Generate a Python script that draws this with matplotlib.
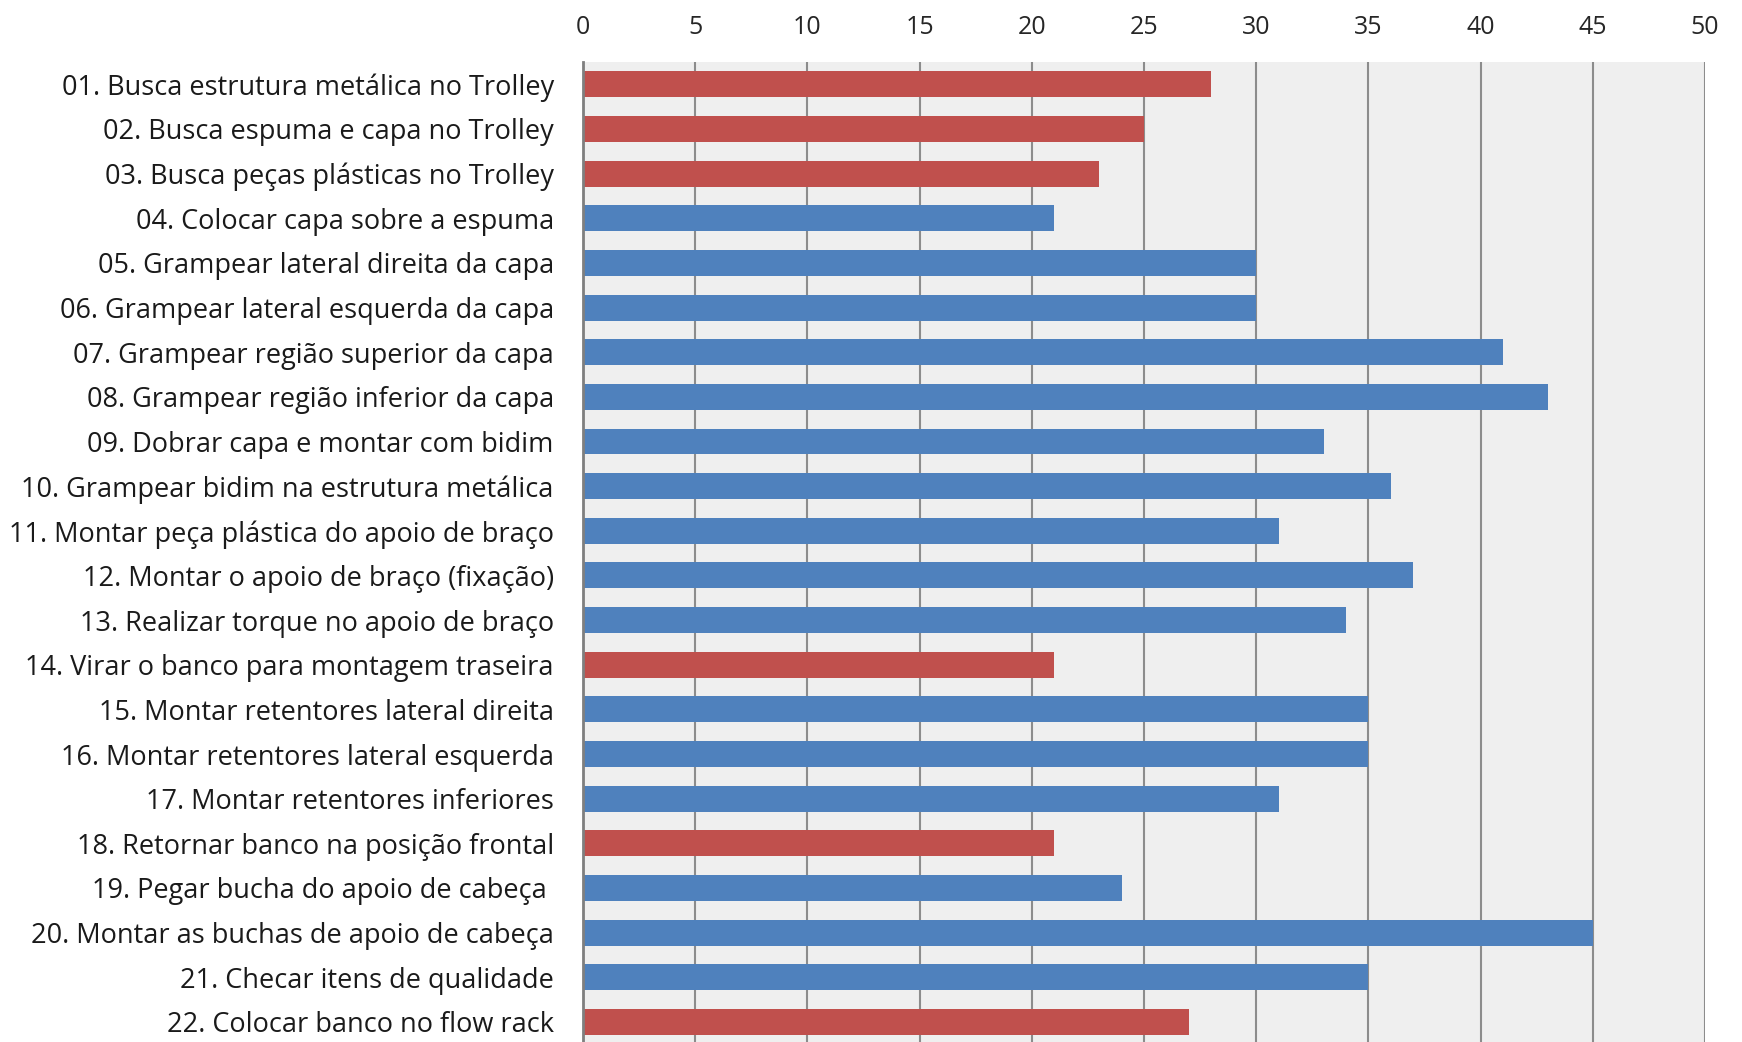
import matplotlib.pyplot as plt
import numpy as np

plt.rcParams['font.family'] = ['Open Sans', 'DejaVu Sans']

etapas = [
    "01. Busca estrutura metálica no Trolley",
    "02. Busca espuma e capa no Trolley",
    "03. Busca peças plásticas no Trolley",
    "04. Colocar capa sobre a espuma",
    "05. Grampear lateral direita da capa",
    "06. Grampear lateral esquerda da capa",
    "07. Grampear região superior da capa",
    "08. Grampear região inferior da capa",
    "09. Dobrar capa e montar com bidim",
    "10. Grampear bidim na estrutura metálica",
    "11. Montar peça plástica do apoio de braço",
    "12. Montar o apoio de braço (fixação)",
    "13. Realizar torque no apoio de braço",
    "14. Virar o banco para montagem traseira",
    "15. Montar retentores lateral direita",
    "16. Montar retentores lateral esquerda",
    "17. Montar retentores inferiores",
    "18. Retornar banco na posição frontal",
    "19. Pegar bucha do apoio de cabeça ",
    "20. Montar as buchas de apoio de cabeça",
    "21. Checar itens de qualidade",
    "22. Colocar banco no flow rack",
]
tempos = [28, 25, 23, 21, 30, 30, 41, 43, 33, 36, 31,
          37, 34, 21, 35, 35, 31, 21, 24, 45, 35, 27]
# True = sem valor agregado (vermelho)
desperdicio = [True, True, True, False, False, False, False, False, False, False, False,
               False, False, True, False, False, False, True, False, False, False, True]
xticks = list(range(0, 51, 5))

vermelho = '#C0504D'
azul = '#4F81BD'

fig = plt.figure(figsize=(17.42, 10.42), dpi=100)
ax = fig.add_axes([583 / 1742, 0.0, (1705 - 583) / 1742, 1 - 62 / 1042])
ax.set_facecolor('#EFEFEF')

y = np.arange(len(etapas))
cores = [vermelho if d else azul for d in desperdicio]
ax.barh(y, tempos, height=0.58, color=cores, zorder=3)

ax.set_xlim(0, 50)
ax.set_ylim(len(etapas) - 1 + 0.45, -0.5)
ax.set_xticks(xticks)
ax.xaxis.tick_top()
ax.grid(axis='x', color='#8C8C8C', linewidth=1.5, zorder=1)
ax.set_axisbelow(True)

ax.set_yticks(y)
ax.set_yticklabels(etapas, fontsize=19.5, color='#1A1A1A')
ax.tick_params(axis='y', length=0, pad=21)
ax.tick_params(axis='x', length=0, pad=16, labelsize=18, labelcolor='#262626')

for s in ['top', 'right', 'bottom']:
    ax.spines[s].set_visible(False)
ax.spines['left'].set_color('#7F7F7F')
ax.spines['left'].set_linewidth(2)
ax.spines['left'].set_zorder(4)

fig.savefig('out.png', dpi=100)
